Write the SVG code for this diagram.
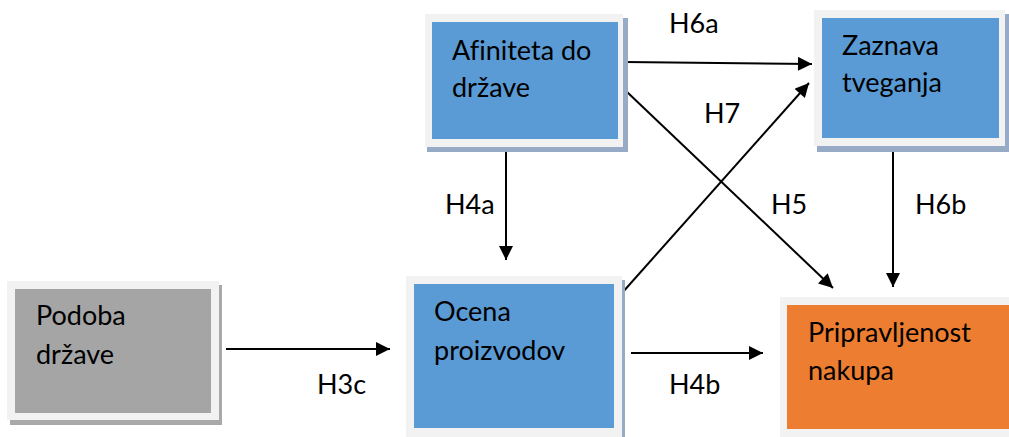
<svg xmlns="http://www.w3.org/2000/svg" width="1009" height="437" viewBox="0 0 1009 437">
<defs>
<style>
.frame{fill:#f2f2f2}
.shb{fill:#97abc6}
.shg{fill:#a9a9a9}
.blue{fill:#5b9bd5}
.gray{fill:#a5a5a5}
.orange{fill:#ed7d31}
.t{font-family:Lato,"Liberation Sans",sans-serif;font-size:27px;fill:#000;font-variant-ligatures:none}
.c{stroke:#000;stroke-width:2;fill:none;marker-end:url(#ah)}
</style>
<marker id="ah" viewBox="0 0 10 10" refX="10" refY="5" markerWidth="8" markerHeight="7" markerUnits="strokeWidth" orient="auto">
<path d="M0,0 L10,5 L0,10 z" fill="#000"/>
</marker>
</defs>
<rect width="1009" height="437" fill="#fff"/>
<g id="connectors">
<line class="c" x1="226" y1="349" x2="390" y2="349"/>
<line class="c" x1="631" y1="353" x2="763" y2="353"/>
<line class="c" x1="506" y1="139" x2="506" y2="260"/>
<line class="c" x1="625" y1="62" x2="812" y2="64"/>
<line class="c" x1="626" y1="91" x2="833" y2="288"/>
<line class="c" x1="622" y1="293" x2="809" y2="83"/>
<line class="c" x1="893" y1="146" x2="893" y2="287"/>
<text class="t" x="669" y="33">H6a</text>
<text class="t" x="704" y="123">H7</text>
<text class="t" x="445" y="214">H4a</text>
<text class="t" x="771" y="214">H5</text>
<text class="t" x="915" y="214">H6b</text>
<text class="t" x="317" y="394">H3c</text>
<text class="t" x="669" y="394">H4b</text>
</g>
<g id="afiniteta">
<rect class="shb" x="427" y="18" width="201" height="134"/>
<rect class="frame" x="425" y="14" width="198" height="133"/>
<rect class="blue" x="432" y="22" width="186" height="117"/>
<text class="t" x="452" y="60">Afiniteta do</text>
<text class="t" x="452" y="97">države</text>
</g>
<g id="zaznava">
<rect class="shb" x="817" y="14" width="192" height="138"/>
<rect class="frame" x="814" y="10" width="191" height="136"/>
<rect class="blue" x="822" y="18" width="177" height="120"/>
<text class="t" x="842" y="55">Zaznava</text>
<text class="t" x="842" y="92">tveganja</text>
</g>
<g id="podoba">
<rect class="shg" x="10" y="285" width="212" height="140"/>
<rect class="frame" x="7" y="281" width="212" height="139"/>
<rect class="gray" x="15" y="289" width="196" height="124"/>
<text class="t" x="36" y="325">Podoba</text>
<text class="t" x="36" y="364">države</text>
</g>
<g id="ocena">
<rect class="shb" x="409" y="280" width="216" height="160"/>
<rect class="frame" x="406" y="276" width="216" height="161"/>
<rect class="blue" x="414" y="284" width="200" height="144"/>
<text class="t" x="434" y="321">Ocena</text>
<text class="t" x="434" y="360">proizvodov</text>
</g>
<g id="pripravljenost">
<rect class="frame" x="780" y="297" width="229" height="140"/>
<rect class="orange" x="787" y="305" width="222" height="124"/>
<text class="t" x="808" y="342">Pripravljenost</text>
<text class="t" x="808" y="380">nakupa</text>
</g>
</svg>
